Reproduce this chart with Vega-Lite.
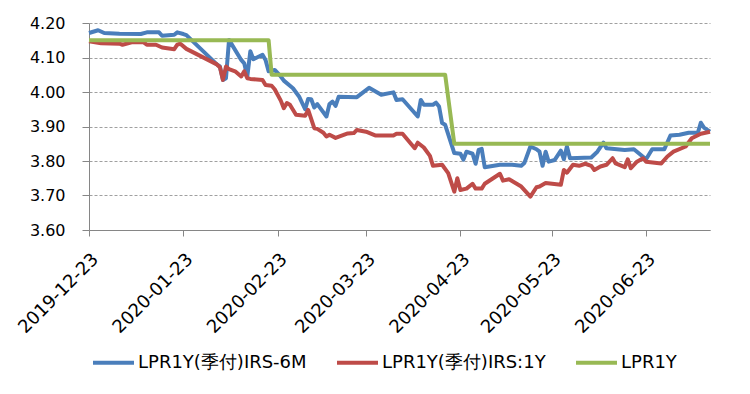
{
  "$schema": "https://vega.github.io/schema/vega-lite/v6.json",
  "width": 621,
  "height": 207,
  "autosize": {"type": "none"},
  "padding": {"left": 89, "top": 23, "right": 40, "bottom": 164},
  "background": "white",
  "config": {"view": {"stroke": null}, "font": "DejaVu Sans"},
  "datasets": {
    "irs6m": [
      {"d": "2019-12-23", "v": 4.171}, {"d": "2019-12-26", "v": 4.179}, {"d": "2019-12-28", "v": 4.171},
      {"d": "2020-01-02", "v": 4.169}, {"d": "2020-01-09", "v": 4.168}, {"d": "2020-01-11", "v": 4.173},
      {"d": "2020-01-15", "v": 4.173}, {"d": "2020-01-16", "v": 4.163}, {"d": "2020-01-20", "v": 4.166},
      {"d": "2020-01-21", "v": 4.173}, {"d": "2020-01-23", "v": 4.168}, {"d": "2020-01-24", "v": 4.165},
      {"d": "2020-02-03", "v": 4.080}, {"d": "2020-02-04", "v": 4.074}, {"d": "2020-02-05", "v": 4.035},
      {"d": "2020-02-06", "v": 4.040}, {"d": "2020-02-07", "v": 4.151}, {"d": "2020-02-11", "v": 4.093},
      {"d": "2020-02-12", "v": 4.083}, {"d": "2020-02-13", "v": 4.045}, {"d": "2020-02-14", "v": 4.118},
      {"d": "2020-02-15", "v": 4.095}, {"d": "2020-02-18", "v": 4.108}, {"d": "2020-02-19", "v": 4.093},
      {"d": "2020-02-20", "v": 4.060}, {"d": "2020-02-21", "v": 4.062}, {"d": "2020-02-22", "v": 4.064},
      {"d": "2020-02-24", "v": 4.045}, {"d": "2020-02-25", "v": 4.033}, {"d": "2020-02-28", "v": 4.011},
      {"d": "2020-03-01", "v": 3.987}, {"d": "2020-03-03", "v": 3.950}, {"d": "2020-03-04", "v": 3.980},
      {"d": "2020-03-05", "v": 3.979}, {"d": "2020-03-06", "v": 3.955}, {"d": "2020-03-07", "v": 3.965},
      {"d": "2020-03-10", "v": 3.929}, {"d": "2020-03-11", "v": 3.965}, {"d": "2020-03-12", "v": 3.972},
      {"d": "2020-03-13", "v": 3.960}, {"d": "2020-03-14", "v": 3.986}, {"d": "2020-03-20", "v": 3.985},
      {"d": "2020-03-24", "v": 4.012}, {"d": "2020-03-28", "v": 3.992}, {"d": "2020-04-01", "v": 3.999},
      {"d": "2020-04-02", "v": 3.977}, {"d": "2020-04-04", "v": 3.979}, {"d": "2020-04-09", "v": 3.929},
      {"d": "2020-04-10", "v": 3.977}, {"d": "2020-04-11", "v": 3.963}, {"d": "2020-04-14", "v": 3.963},
      {"d": "2020-04-15", "v": 3.969}, {"d": "2020-04-16", "v": 3.958}, {"d": "2020-04-17", "v": 3.910},
      {"d": "2020-04-18", "v": 3.905}, {"d": "2020-04-21", "v": 3.823}, {"d": "2020-04-23", "v": 3.821},
      {"d": "2020-04-24", "v": 3.804}, {"d": "2020-04-25", "v": 3.827}, {"d": "2020-04-27", "v": 3.821},
      {"d": "2020-04-28", "v": 3.792}, {"d": "2020-04-29", "v": 3.832}, {"d": "2020-04-30", "v": 3.835},
      {"d": "2020-05-01", "v": 3.782}, {"d": "2020-05-06", "v": 3.789}, {"d": "2020-05-10", "v": 3.789},
      {"d": "2020-05-13", "v": 3.786}, {"d": "2020-05-14", "v": 3.794}, {"d": "2020-05-16", "v": 3.842},
      {"d": "2020-05-18", "v": 3.834}, {"d": "2020-05-19", "v": 3.827}, {"d": "2020-05-20", "v": 3.786},
      {"d": "2020-05-21", "v": 3.827}, {"d": "2020-05-22", "v": 3.798}, {"d": "2020-05-24", "v": 3.803},
      {"d": "2020-05-26", "v": 3.830}, {"d": "2020-05-27", "v": 3.805}, {"d": "2020-05-28", "v": 3.842},
      {"d": "2020-05-29", "v": 3.808}, {"d": "2020-06-05", "v": 3.810}, {"d": "2020-06-07", "v": 3.827},
      {"d": "2020-06-09", "v": 3.853}, {"d": "2020-06-10", "v": 3.837}, {"d": "2020-06-16", "v": 3.832},
      {"d": "2020-06-19", "v": 3.834}, {"d": "2020-06-23", "v": 3.805}, {"d": "2020-06-25", "v": 3.834},
      {"d": "2020-06-29", "v": 3.834}, {"d": "2020-07-01", "v": 3.874}, {"d": "2020-07-04", "v": 3.876},
      {"d": "2020-07-07", "v": 3.882}, {"d": "2020-07-10", "v": 3.882}, {"d": "2020-07-11", "v": 3.911},
      {"d": "2020-07-12", "v": 3.897}, {"d": "2020-07-14", "v": 3.885}
    ],
    "irs1y": [
      {"d": "2019-12-23", "v": 4.147}, {"d": "2019-12-27", "v": 4.141}, {"d": "2020-01-02", "v": 4.140},
      {"d": "2020-01-03", "v": 4.137}, {"d": "2020-01-06", "v": 4.144}, {"d": "2020-01-10", "v": 4.144},
      {"d": "2020-01-11", "v": 4.137}, {"d": "2020-01-14", "v": 4.137}, {"d": "2020-01-16", "v": 4.129},
      {"d": "2020-01-20", "v": 4.124}, {"d": "2020-01-21", "v": 4.137}, {"d": "2020-01-22", "v": 4.140},
      {"d": "2020-01-24", "v": 4.125}, {"d": "2020-02-03", "v": 4.080}, {"d": "2020-02-04", "v": 4.072},
      {"d": "2020-02-05", "v": 4.035}, {"d": "2020-02-06", "v": 4.074}, {"d": "2020-02-07", "v": 4.066},
      {"d": "2020-02-09", "v": 4.060}, {"d": "2020-02-11", "v": 4.045}, {"d": "2020-02-12", "v": 4.060},
      {"d": "2020-02-13", "v": 4.040}, {"d": "2020-02-14", "v": 4.038}, {"d": "2020-02-18", "v": 4.035},
      {"d": "2020-02-19", "v": 4.020}, {"d": "2020-02-21", "v": 4.018}, {"d": "2020-02-22", "v": 4.008},
      {"d": "2020-02-24", "v": 3.975}, {"d": "2020-02-25", "v": 3.953}, {"d": "2020-02-26", "v": 3.968},
      {"d": "2020-02-27", "v": 3.963}, {"d": "2020-02-29", "v": 3.934}, {"d": "2020-03-03", "v": 3.931},
      {"d": "2020-03-04", "v": 3.948}, {"d": "2020-03-06", "v": 3.895}, {"d": "2020-03-07", "v": 3.893},
      {"d": "2020-03-09", "v": 3.882}, {"d": "2020-03-10", "v": 3.871}, {"d": "2020-03-11", "v": 3.876},
      {"d": "2020-03-13", "v": 3.867}, {"d": "2020-03-17", "v": 3.880}, {"d": "2020-03-19", "v": 3.881},
      {"d": "2020-03-20", "v": 3.890}, {"d": "2020-03-23", "v": 3.885}, {"d": "2020-03-26", "v": 3.874},
      {"d": "2020-04-01", "v": 3.874}, {"d": "2020-04-02", "v": 3.879}, {"d": "2020-04-04", "v": 3.879},
      {"d": "2020-04-08", "v": 3.837}, {"d": "2020-04-09", "v": 3.853}, {"d": "2020-04-11", "v": 3.839},
      {"d": "2020-04-13", "v": 3.815}, {"d": "2020-04-14", "v": 3.786}, {"d": "2020-04-17", "v": 3.789},
      {"d": "2020-04-19", "v": 3.765}, {"d": "2020-04-21", "v": 3.711}, {"d": "2020-04-22", "v": 3.750},
      {"d": "2020-04-23", "v": 3.716}, {"d": "2020-04-25", "v": 3.720}, {"d": "2020-04-27", "v": 3.734},
      {"d": "2020-04-28", "v": 3.720}, {"d": "2020-04-30", "v": 3.720}, {"d": "2020-05-01", "v": 3.734},
      {"d": "2020-05-06", "v": 3.763}, {"d": "2020-05-07", "v": 3.743}, {"d": "2020-05-09", "v": 3.747},
      {"d": "2020-05-13", "v": 3.726}, {"d": "2020-05-16", "v": 3.697}, {"d": "2020-05-18", "v": 3.724},
      {"d": "2020-05-19", "v": 3.726}, {"d": "2020-05-21", "v": 3.736}, {"d": "2020-05-26", "v": 3.731},
      {"d": "2020-05-27", "v": 3.774}, {"d": "2020-05-28", "v": 3.766}, {"d": "2020-05-30", "v": 3.789},
      {"d": "2020-06-01", "v": 3.786}, {"d": "2020-06-03", "v": 3.792}, {"d": "2020-06-05", "v": 3.786},
      {"d": "2020-06-06", "v": 3.774}, {"d": "2020-06-08", "v": 3.784}, {"d": "2020-06-10", "v": 3.789},
      {"d": "2020-06-12", "v": 3.808}, {"d": "2020-06-13", "v": 3.793}, {"d": "2020-06-16", "v": 3.782},
      {"d": "2020-06-17", "v": 3.805}, {"d": "2020-06-18", "v": 3.779}, {"d": "2020-06-20", "v": 3.798},
      {"d": "2020-06-22", "v": 3.808}, {"d": "2020-06-23", "v": 3.798}, {"d": "2020-06-28", "v": 3.793},
      {"d": "2020-06-30", "v": 3.813}, {"d": "2020-07-02", "v": 3.827}, {"d": "2020-07-06", "v": 3.842},
      {"d": "2020-07-08", "v": 3.866}, {"d": "2020-07-11", "v": 3.879}, {"d": "2020-07-14", "v": 3.885}
    ],
    "lpr": [
      {"d": "2019-12-23", "v": 4.15}, {"d": "2020-02-20", "v": 4.15}, {"d": "2020-02-21", "v": 4.05},
      {"d": "2020-04-18", "v": 4.05}, {"d": "2020-04-21", "v": 3.85}, {"d": "2020-07-14", "v": 3.85}
    ]
  },
  "encoding": {
    "x": {
      "field": "d",
      "type": "temporal",
      "scale": {
        "type": "utc",
        "domain": [
          {"year": 2019, "month": 12, "date": 23, "utc": true},
          {"year": 2020, "month": 7, "date": 14, "utc": true}
        ]
      },
      "axis": {
        "title": null,
        "grid": false,
        "values": [
          {"year": 2019, "month": 12, "date": 23, "utc": true},
          {"year": 2020, "month": 1, "date": 23, "utc": true},
          {"year": 2020, "month": 2, "date": 23, "utc": true},
          {"year": 2020, "month": 3, "date": 23, "utc": true},
          {"year": 2020, "month": 4, "date": 23, "utc": true},
          {"year": 2020, "month": 5, "date": 23, "utc": true},
          {"year": 2020, "month": 6, "date": 23, "utc": true}
        ],
        "labelExpr": "utcFormat(datum.value, '%Y-%m-%d')",
        "labelAngle": -45,
        "labelAlign": "right",
        "labelBaseline": "top",
        "labelPadding": 14,
        "labelOverlap": false,
        "labelBound": false,
        "labelFlush": false,
        "labelFont": "DejaVu Sans",
        "labelFontSize": 18,
        "labelColor": "#000000",
        "domainColor": "#868686",
        "tickColor": "#868686",
        "tickSize": 6
      }
    },
    "y": {
      "field": "v",
      "type": "quantitative",
      "scale": {"domain": [3.6, 4.2], "zero": false, "nice": false},
      "axis": {
        "title": null,
        "values": [3.6, 3.7, 3.8, 3.9, 4.0, 4.1, 4.2],
        "format": ".2f",
        "labelFont": "DejaVu Sans",
        "labelFontSize": 16,
        "labelColor": "#000000",
        "labelPadding": 17,
        "domainColor": "#868686",
        "tickColor": "#868686",
        "tickSize": 7,
        "gridColor": "#a0a0a0",
        "gridDash": [3, 2],
        "gridWidth": 1
      }
    }
  },
  "layer": [
    {
      "data": {"name": "irs6m"},
      "mark": {"type": "line", "strokeWidth": 4, "strokeJoin": "round"},
      "encoding": {
        "color": {
          "datum": "LPR1Y(季付)IRS-6M",
          "scale": {
            "domain": ["LPR1Y(季付)IRS-6M", "LPR1Y(季付)IRS:1Y", "LPR1Y"],
            "range": ["#4A7EBB", "#BE4B48", "#98B954"]
          },
          "legend": {
            "title": null,
            "orient": "none",
            "legendX": 2,
            "legendY": 317,
            "direction": "horizontal",
            "columns": 3,
            "symbolType": "stroke",
            "symbolSize": 1681,
            "symbolStrokeWidth": 4,
            "labelFont": "DejaVu Sans",
            "labelFontSize": 18,
            "labelColor": "#000000",
            "labelOffset": 2,
            "labelLimit": 300,
            "columnPadding": 22
          }
        }
      }
    },
    {
      "data": {"name": "irs1y"},
      "mark": {"type": "line", "strokeWidth": 4, "strokeJoin": "round"},
      "encoding": {"color": {"datum": "LPR1Y(季付)IRS:1Y"}}
    },
    {
      "data": {"name": "lpr"},
      "mark": {"type": "line", "strokeWidth": 4, "strokeJoin": "round"},
      "encoding": {"color": {"datum": "LPR1Y"}}
    }
  ]
}
